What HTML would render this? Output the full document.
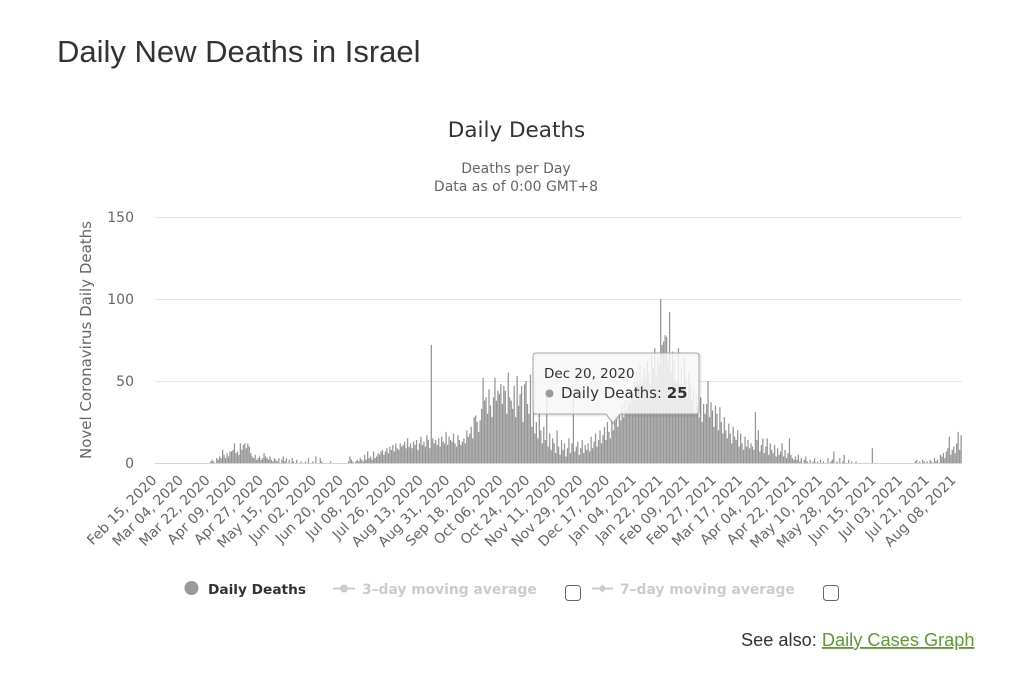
<!DOCTYPE html>
<html>
<head>
<meta charset="utf-8">
<style>
html,body{margin:0;padding:0;background:#fff;}
body{width:1024px;height:676px;overflow:hidden;position:relative;}
svg{position:absolute;left:0;top:0;}
</style>
</head>
<body>
<svg width="1024" height="676" viewBox="0 0 1024 676" xmlns="http://www.w3.org/2000/svg" font-family="'DejaVu Sans', sans-serif">
  <!-- Page title -->
  <text x="57" y="62" font-family="'Liberation Sans', Arial, sans-serif" font-size="31" fill="#333">Daily New Deaths in Israel</text>

  <!-- Chart title / subtitle -->
  <text x="516.5" y="137" text-anchor="middle" font-size="21.5" fill="#333">Daily Deaths</text>
  <text x="516" y="173" text-anchor="middle" font-size="14" fill="#666">Deaths per Day</text>
  <text x="516" y="191" text-anchor="middle" font-size="14" fill="#666">Data as of 0:00 GMT+8</text>

  <!-- Grid -->
  <g stroke="#e6e6e6" stroke-width="1">
    <line x1="155" y1="217.5" x2="962" y2="217.5"/>
    <line x1="155" y1="299.5" x2="962" y2="299.5"/>
    <line x1="155" y1="381.5" x2="962" y2="381.5"/>
  </g>

  <!-- Y labels -->
  <g font-size="14" fill="#666" text-anchor="end">
    <text x="134" y="222">150</text>
    <text x="134" y="304">100</text>
    <text x="134" y="386">50</text>
    <text x="134" y="468">0</text>
  </g>
  <text transform="translate(91,340) rotate(-90)" text-anchor="middle" font-size="15" fill="#666">Novel Coronavirus Daily Deaths</text>

  <!-- Bars -->
  <g transform="translate(157.5,463) scale(1.48,-1.64)">
    <path fill="none" stroke="#949494" stroke-width="1.25" vector-effect="non-scaling-stroke" d="
M36 0V1M37 0V2M38 0V1M40 0V3
M41 0V2M42 0V4M43 0V3M44 0V8M45 0V5M46 0V3M47 0V6M48 0V4M49 0V7M50 0V7
M51 0V8M52 0V12M53 0V6M54 0V7M55 0V5M56 0V12M57 0V8M58 0V11M59 0V12M60 0V9
M61 0V12M62 0V10M63 0V6M64 0V4M65 0V3M66 0V5M67 0V2M68 0V3M69 0V4M70 0V2
M71 0V3M72 0V6M73 0V4M74 0V3M75 0V2M76 0V4M77 0V2M78 0V1M79 0V3M80 0V2
M81 0V1M82 0V3M84 0V2M85 0V4M86 0V1M87 0V3M89 0V2
M91 0V3M92 0V1M94 0V2M97 0V1M100 0V1
M102 0V3M105 0V1M107 0V4M110 0V3
M111 0V1M117 0V1
M129 0V1M130 0V4
M131 0V2M132 0V1M134 0V1M135 0V2M136 0V1M137 0V3M138 0V2M139 0V1M140 0V5
M141 0V2M142 0V7M143 0V3M144 0V4M145 0V2M146 0V7M147 0V3M148 0V4M149 0V6M150 0V5
M151 0V7M152 0V8M153 0V5M154 0V7M155 0V9M156 0V6M157 0V10M158 0V8M159 0V11M160 0V7
M161 0V12M162 0V9M163 0V8M164 0V12M165 0V10M166 0V11M167 0V13M168 0V9M169 0V15M170 0V10
M171 0V12M172 0V9M173 0V13M174 0V11M175 0V14M176 0V8M177 0V12M178 0V16M179 0V11M180 0V13
M181 0V10M182 0V17M183 0V14M184 0V9M185 0V72M186 0V15M187 0V12M188 0V14M189 0V11M190 0V15
M191 0V10M192 0V16M193 0V13M194 0V12M195 0V19M196 0V11M197 0V16M198 0V14M199 0V13M200 0V18
M201 0V12M202 0V10M203 0V17M204 0V14M205 0V11M206 0V13M207 0V15M208 0V12M209 0V20M210 0V16
M211 0V18M212 0V22M213 0V15M214 0V28M215 0V29M216 0V25M217 0V19M218 0V26M219 0V33M220 0V52
M221 0V38M222 0V40M223 0V30M224 0V45M225 0V35M226 0V28M227 0V40M228 0V52M229 0V38M230 0V44
M231 0V42M232 0V48M233 0V36M234 0V47M235 0V44M236 0V30M237 0V55M238 0V40M239 0V38M240 0V33
M241 0V47M242 0V28M243 0V53M244 0V35M245 0V42M246 0V47M247 0V25M248 0V48M249 0V50M250 0V36
M251 0V30M252 0V54M253 0V22M254 0V38M255 0V18M256 0V25M257 0V15M258 0V30M259 0V20M260 0V12
M261 0V22M262 0V14M263 0V40M264 0V10M265 0V18M266 0V8M267 0V15M268 0V12M269 0V6M270 0V20
M271 0V10M272 0V5M273 0V14M274 0V8M275 0V12M276 0V4M277 0V9M278 0V15M279 0V6M280 0V12
M281 0V45M282 0V7M283 0V10M284 0V13M285 0V5M286 0V9M287 0V14M288 0V6M289 0V11M290 0V8
M291 0V12M292 0V7M293 0V16M294 0V9M295 0V13M296 0V18M297 0V10M298 0V14M299 0V20M300 0V12
M301 0V17M302 0V22M303 0V14M304 0V25M305 0V19M306 0V15M307 0V26M308 0V20M309 0V25M310 0V28
M311 0V22M312 0V30M313 0V26M314 0V35M315 0V28M316 0V38M317 0V32M318 0V40M319 0V36M320 0V45
M321 0V42M322 0V50M323 0V38M324 0V55M325 0V48M326 0V60M327 0V45M328 0V52M329 0V58M330 0V50
M331 0V62M332 0V55M333 0V48M334 0V66M335 0V58M336 0V70M337 0V52M338 0V64M339 0V60M340 0V100
M341 0V72M342 0V74M343 0V78M344 0V77M345 0V62M346 0V92M347 0V55M348 0V68M349 0V62M350 0V50
M351 0V50M352 0V70M353 0V48M354 0V58M355 0V45M356 0V64M357 0V52M358 0V40M359 0V55M360 0V48
M361 0V38M362 0V45M363 0V30M364 0V42M365 0V35M366 0V28M367 0V40M368 0V25M369 0V36M370 0V30
M371 0V36M372 0V50M373 0V28M374 0V37M375 0V32M376 0V22M377 0V35M378 0V30M379 0V20M380 0V34
M381 0V25M382 0V18M383 0V28M384 0V20M385 0V15M386 0V24M387 0V18M388 0V12M389 0V22M390 0V16
M391 0V14M392 0V20M393 0V10M394 0V18M395 0V12M396 0V8M397 0V16M398 0V10M399 0V14M400 0V9
M401 0V12M402 0V10M403 0V8M404 0V31M405 0V14M406 0V20M407 0V7M408 0V11M409 0V15M410 0V6
M411 0V10M412 0V15M413 0V5M414 0V12M415 0V8M416 0V6M417 0V11M418 0V4M419 0V9M420 0V5
M421 0V7M422 0V12M423 0V4M424 0V8M425 0V3M426 0V6M427 0V15M428 0V5M429 0V3M430 0V2
M431 0V4M432 0V2M433 0V5M434 0V1M435 0V3M437 0V2M438 0V4M439 0V1
M441 0V2M443 0V1M444 0V3M446 0V1M448 0V2M450 0V1
M453 0V3M455 0V1M456 0V2M457 0V7M459 0V1
M461 0V3M463 0V1M464 0V5M467 0V2M469 0V1
M472 0V1M483 0V9
M512 0V1M513 0V2M515 0V1M517 0V2M518 0V1M520 0V1
M522 0V2M523 0V1M525 0V3M526 0V1M527 0V2M529 0V5M530 0V4
M531 0V6M532 0V3M533 0V7M534 0V9M535 0V16M536 0V5M537 0V8M538 0V10M539 0V6M540 0V12
M541 0V19M542 0V8M543 0V17"/>
  </g>

  <!-- X axis line -->
  <line x1="155" y1="463.5" x2="962" y2="463.5" stroke="#ccd6eb" stroke-width="1"/>

  <!-- X labels -->
  <g font-size="14" fill="#666" text-anchor="end">
    <text transform="translate(157.5,481) rotate(-45)">Feb 15, 2020</text>
    <text transform="translate(184.1,481) rotate(-45)">Mar 04, 2020</text>
    <text transform="translate(210.8,481) rotate(-45)">Mar 22, 2020</text>
    <text transform="translate(237.4,481) rotate(-45)">Apr 09, 2020</text>
    <text transform="translate(264.1,481) rotate(-45)">Apr 27, 2020</text>
    <text transform="translate(290.7,481) rotate(-45)">May 15, 2020</text>
    <text transform="translate(317.3,481) rotate(-45)">Jun 02, 2020</text>
    <text transform="translate(344.0,481) rotate(-45)">Jun 20, 2020</text>
    <text transform="translate(370.6,481) rotate(-45)">Jul 08, 2020</text>
    <text transform="translate(397.3,481) rotate(-45)">Jul 26, 2020</text>
    <text transform="translate(423.9,481) rotate(-45)">Aug 13, 2020</text>
    <text transform="translate(450.5,481) rotate(-45)">Aug 31, 2020</text>
    <text transform="translate(477.2,481) rotate(-45)">Sep 18, 2020</text>
    <text transform="translate(503.8,481) rotate(-45)">Oct 06, 2020</text>
    <text transform="translate(530.5,481) rotate(-45)">Oct 24, 2020</text>
    <text transform="translate(557.1,481) rotate(-45)">Nov 11, 2020</text>
    <text transform="translate(583.7,481) rotate(-45)">Nov 29, 2020</text>
    <text transform="translate(610.4,481) rotate(-45)">Dec 17, 2020</text>
    <text transform="translate(637.0,481) rotate(-45)">Jan 04, 2021</text>
    <text transform="translate(663.7,481) rotate(-45)">Jan 22, 2021</text>
    <text transform="translate(690.3,481) rotate(-45)">Feb 09, 2021</text>
    <text transform="translate(716.9,481) rotate(-45)">Feb 27, 2021</text>
    <text transform="translate(743.6,481) rotate(-45)">Mar 17, 2021</text>
    <text transform="translate(770.2,481) rotate(-45)">Apr 04, 2021</text>
    <text transform="translate(796.9,481) rotate(-45)">Apr 22, 2021</text>
    <text transform="translate(823.5,481) rotate(-45)">May 10, 2021</text>
    <text transform="translate(850.1,481) rotate(-45)">May 28, 2021</text>
    <text transform="translate(876.8,481) rotate(-45)">Jun 15, 2021</text>
    <text transform="translate(903.4,481) rotate(-45)">Jul 03, 2021</text>
    <text transform="translate(930.1,481) rotate(-45)">Jul 21, 2021</text>
    <text transform="translate(956.7,481) rotate(-45)">Aug 08, 2021</text>
  </g>

  <!-- Tooltip -->
  <path d="M537 354 H697 Q700 354 700 357 V412 Q700 415 697 415 H621 L614 424 L607 415 H537 Q534 415 534 412 V357 Q534 354 537 354 Z" fill="none" stroke="rgba(0,0,0,0.08)" stroke-width="3"/>
  <path d="M536 353 H696 Q699 353 699 356 V411 Q699 414 696 414 H620 L613 423 L606 414 H536 Q533 414 533 411 V356 Q533 353 536 353 Z" fill="rgba(247,247,247,0.85)" stroke="#a6a6a6" stroke-width="1"/>
  <text x="544" y="378" font-size="13.5" fill="#333">Dec 20, 2020</text>
  <circle cx="549.5" cy="393.5" r="4" fill="#9a9a9a"/>
  <text x="561" y="398" font-size="15" fill="#333">Daily Deaths: <tspan font-weight="bold">25</tspan></text>

  <!-- Legend -->
  <circle cx="191.5" cy="588" r="7" fill="#9a9a9a"/>
  <text x="208" y="594" font-size="13.7" font-weight="bold" fill="#333">Daily Deaths</text>

  <line x1="333" y1="588.5" x2="355" y2="588.5" stroke="#cccccc" stroke-width="2"/>
  <circle cx="344" cy="588.5" r="4" fill="#cccccc"/>
  <text x="362" y="594" font-size="13.85" font-weight="bold" fill="#cccccc">3–day moving average</text>
  <rect x="565.5" y="585.5" width="15" height="15" rx="3" ry="3" fill="#fff" stroke="#666" stroke-width="1"/>

  <line x1="592" y1="588.5" x2="613" y2="588.5" stroke="#cccccc" stroke-width="2"/>
  <path d="M602.5 584.5 L606.5 588.5 L602.5 592.5 L598.5 588.5 Z" fill="#cccccc"/>
  <text x="620" y="594" font-size="13.85" font-weight="bold" fill="#cccccc">7–day moving average</text>
  <rect x="823.5" y="585.5" width="15" height="15" rx="3" ry="3" fill="#fff" stroke="#666" stroke-width="1"/>

  <!-- See also -->
  <text x="741" y="646" font-family="'Liberation Sans', Arial, sans-serif" font-size="18.2" fill="#333">See also: <tspan fill="#5e9a32" text-decoration="underline">Daily Cases Graph</tspan></text>
</svg>
</body>
</html>
